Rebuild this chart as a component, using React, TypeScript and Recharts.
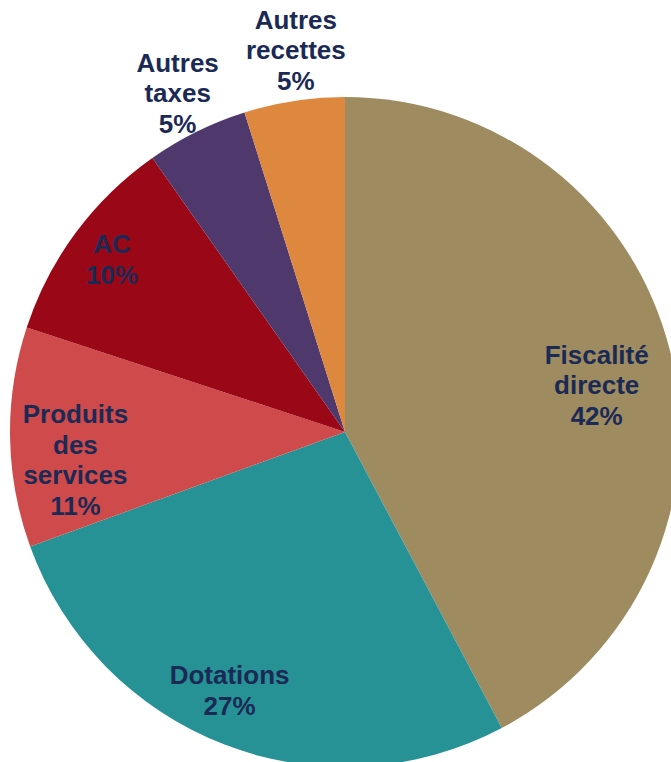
import React from 'react';
import { PieChart, Pie, Cell } from 'recharts';

const categories = ['Fiscalité directe', 'Dotations', 'Produits des services', 'AC', 'Autres taxes', 'Autres recettes'];
const shares = [42.25, 27.2, 10.6, 10.2, 4.9, 4.85];
// how each label is broken into lines
const labelLines = [['Fiscalité', 'directe'], ['Dotations'], ['Produits', 'des', 'services'], ['AC'], ['Autres', 'taxes'], ['Autres', 'recettes']];

const COLORS = ['#9E8C60', '#279296', '#CF4A4A', '#9A0716', '#4E386C', '#DE873F'];
// label placement: distance from centre and angle tweak (degrees)
const LABEL_RADIUS = [256, 283, 271, 290, 378, 385];
const LABEL_ANGLE_SHIFT = [-3.4, -3, 5, 0, 0, -1.4];

const data = categories.map((name, i) => ({ name, value: shares[i] }));
const total = shares.reduce((a, b) => a + b, 0);

const RAD = Math.PI / 180;

const renderLabel = (props: any) => {
  const { cx, cy, midAngle, index } = props;
  const angle = (midAngle + LABEL_ANGLE_SHIFT[index]) * RAD;
  const r = LABEL_RADIUS[index];
  const x = cx + r * Math.cos(-angle);
  const y = cy + r * Math.sin(-angle);
  const lines = [...labelLines[index], `${Math.round((shares[index] / total) * 100)}%`];
  const lh = 30.5;
  return (
    <text
      x={x}
      y={y}
      textAnchor="middle"
      dominantBaseline="central"
      fill="#1B2A55"
      fontFamily="'Liberation Sans', Arial, sans-serif"
      fontWeight="bold"
      fontSize={26}
    >
      {lines.map((l, i) => (
        <tspan key={i} x={x} dy={i === 0 ? -((lines.length - 1) / 2) * lh : lh}>
          {l}
        </tspan>
      ))}
    </text>
  );
};

export default function App() {
  return (
    <div style={{ position: 'fixed', left: 0, top: 0, width: 671, height: 762, background: '#fff' }}>
      <PieChart width={671} height={762} margin={{ top: 0, right: 0, bottom: 0, left: 0 }}>
        <Pie
          data={data}
          dataKey="value"
          cx={345}
          cy={432}
          outerRadius={335}
          startAngle={90}
          endAngle={-270}
          stroke="none"
          labelLine={false}
          label={renderLabel}
          isAnimationActive={false}
        >
          {data.map((entry, index) => (
            <Cell key={`cell-${index}`} fill={COLORS[index]} />
          ))}
        </Pie>
      </PieChart>
    </div>
  );
}
